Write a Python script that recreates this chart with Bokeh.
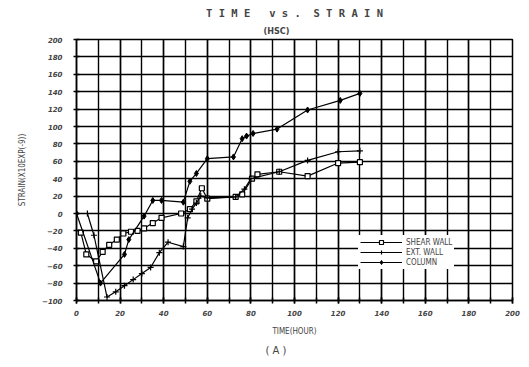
from bokeh.plotting import figure
from bokeh.models import FixedTicker, Range1d, Legend, LegendItem, Title
from bokeh.embed import file_html
from bokeh.resources import INLINE

# SHEAR WALL (squares)
sw_t = [2, 4.5, 9, 12, 15, 18.5, 21.5, 25, 28, 31, 35, 39, 48, 52, 55, 57.5, 60, 73, 76, 80.5, 83, 93, 106, 120, 130]
sw_s = [-22, -47, -55, -44, -36, -30, -23, -21, -20, -17, -11, -5, 0, 5, 14, 29, 17, 19, 22, 40, 45, 48, 43, 58, 59]
# EXT. WALL (plus)
ew_t = [5, 8, 14, 18, 22, 26, 30, 34, 38, 42, 49, 51, 53, 55, 57, 60, 73, 77, 80, 93, 106, 120, 130]
ew_s = [0, -25, -96, -90, -83, -76, -69, -62, -45, -33, -38, -5, 5, 12, 20, 18, 19, 28, 40, 48, 61, 71, 72]
# COLUMN (diamonds)
co_t = [0, 11, 22, 24, 31, 35, 39, 49, 52, 55, 60, 72, 76, 78, 81, 92, 106, 121, 130]
co_s = [0, -80, -47, -30, -3, 15, 15, 13, 37, 46, 63, 65, 86, 89, 92, 97, 119, 130, 138]

x_ticks = list(range(0, 201, 20))
x_minor = list(range(0, 201, 10))
y_ticks = list(range(-100, 201, 20))

p = figure(width=521, height=359, output_backend="svg", toolbar_location=None,
           x_range=Range1d(0, 200), y_range=Range1d(-100, 200),
           min_border_left=76, min_border_right=9, min_border_top=39, min_border_bottom=58)
p.outline_line_color = "black"
p.outline_line_width = 1.5
p.background_fill_color = "white"
p.border_fill_color = "white"

p.title.text = "T I M E\u00a0\u00a0 v s .\u00a0 S T R A I N"
p.title.align = "center"
p.title.text_font = "DejaVu Sans Mono"
p.title.text_font_size = "10.5px"
p.title.text_font_style = "bold"
p.title.standoff = 3
p.add_layout(Title(text="(HSC)", align="left", offset=187, standoff=7, text_font="DejaVu Sans Condensed",
                   text_font_size="9px", text_font_style="bold"), "above")
p.add_layout(Title(text="( A )", align="left", offset=189, standoff=8, text_font="DejaVu Sans",
                   text_font_size="10px", text_font_style="normal"), "below")

p.xaxis.ticker = FixedTicker(ticks=x_ticks, minor_ticks=x_minor)
p.yaxis.ticker = FixedTicker(ticks=y_ticks, minor_ticks=[])
for ax in (p.xaxis, p.yaxis):
    ax.axis_line_color = "black"
    ax.axis_line_width = 1.5
    ax.major_tick_line_color = "black"
    ax.major_tick_line_width = 1.5
    ax.major_tick_in = 3
    ax.major_tick_out = 3
    ax.minor_tick_line_color = "black"
    ax.minor_tick_line_width = 1.5
    ax.minor_tick_in = 3
    ax.minor_tick_out = 3
    ax.major_label_text_font = "DejaVu Sans"
    ax.major_label_text_font_style = "bold italic"
    ax.major_label_text_font_size = "7px"
    ax.axis_label_text_font = "DejaVu Sans Condensed"
    ax.axis_label_text_font_style = "normal"
    ax.axis_label_text_font_size = "8px"
p.xaxis.major_label_standoff = 6
p.yaxis.major_label_standoff = 11
p.xaxis.axis_label = "TIME(HOUR)"
p.yaxis.axis_label = "STRAIN(X10EXP(-9))"
p.xaxis.axis_label_standoff = 8
p.yaxis.axis_label_standoff = 12

p.xgrid.grid_line_color = "black"
p.xgrid.grid_line_width = 1.4
p.xgrid.minor_grid_line_color = "black"
p.xgrid.minor_grid_line_width = 1.4
p.ygrid.grid_line_color = "black"
p.ygrid.grid_line_width = 1.4

l1 = p.line(sw_t, sw_s, line_color="black", line_width=1.2)
m1 = p.scatter(sw_t, sw_s, marker="square", size=5, fill_color="white", line_color="black", line_width=1.2)
l2 = p.line(ew_t, ew_s, line_color="black", line_width=1.2)
m2 = p.scatter(ew_t, ew_s, marker="cross", size=6, line_color="black", line_width=1.2)
l3 = p.line(co_t, co_s, line_color="black", line_width=1.2)
m3 = p.scatter(co_t, co_s, marker="diamond", size=6, fill_color="black", line_color="black", line_width=1.0)

legend = Legend(items=[LegendItem(label="SHEAR WALL", renderers=[l1, m1]),
                       LegendItem(label="EXT. WALL", renderers=[l2, m2]),
                       LegendItem(label="COLUMN", renderers=[l3, m3])],
                location=(282, 31), background_fill_color="white", background_fill_alpha=1.0,
                border_line_alpha=0, label_text_font="DejaVu Sans Condensed", label_text_font_size="8px",
                glyph_height=10, glyph_width=42, label_height=10, spacing=0, padding=2, margin=0,
                label_standoff=4)
p.add_layout(legend)

open("out.html", "w").write(file_html(p, INLINE))
